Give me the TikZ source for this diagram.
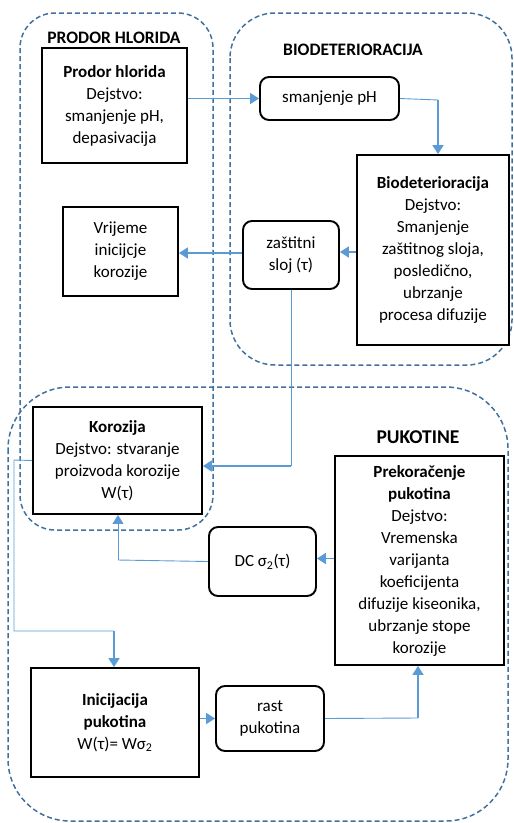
\documentclass[tikz,border=0pt]{standalone}
\usepackage{fontspec}
\setmainfont{Carlito}
\usetikzlibrary{arrows.meta,positioning}
\definecolor{zoneblue}{HTML}{41719C}
\definecolor{linkblue}{HTML}{5B9BD5}

\begin{document}
\begin{tikzpicture}[
  x = 1pt, y = -1pt,
  > = {Triangle[length=9pt,width=11pt]},
  font = \fontsize{17}{22}\selectfont,
  zone/.style = {draw=zoneblue, line width=1.5pt, dash pattern=on 5pt off 3pt},
  stage/.style = {rectangle, draw, line width=1.9pt, align=center,
                  inner sep=0pt, fill=white},
  quantity/.style = {stage, rounded corners=9pt},
  title/.style = {font=\fontsize{17.5}{22}\selectfont\bfseries},
  link/.style = {draw=linkblue, line width=1.8pt},
  feed/.style = {draw=linkblue, line width=0.9pt}
]

\useasboundingbox (0,0) rectangle (514,823);

\draw[zone, rounded corners=35pt] (20,13) rectangle (213,530);
\draw[zone, rounded corners=45pt] (230,13) rectangle (512,365);
\draw[zone, rounded corners=62pt] (8,387) rectangle (508,821);

\node[title] (tprodor) at (114,38)  {PRODOR HLORIDA};
\node[title] (tbio)    at (353,50)  {BIODETERIORACIJA};
\node[title, font=\fontsize{19.5}{22}\selectfont\bfseries] (tpuk) at (418,437) {PUKOTINE};

\node[stage, minimum width=145pt, minimum height=115pt] (prodor) at (114.5,105.5)
  {\textbf{Prodor hlorida}\\Dejstvo:\\smanjenje pH,\\depasivacija};
\node[quantity, minimum width=139pt, minimum height=43pt] (ph) at (329.5,98.5)
  {smanjenje pH};
\node[stage, minimum width=152pt, minimum height=190pt] (bio) at (433,250)
  {\textbf{Biodeterioracija}\\Dejstvo:\\Smanjenje\\zaštitnog sloja,\\posledično,\\ubrzanje\\procesa difuzije};
\node[quantity, minimum width=96pt, minimum height=68pt] (sloj) at (291,255)
  {zaštitni\\sloj (τ)};
\node[stage, minimum width=115pt, minimum height=89pt] (vrijeme) at (120.5,251.5)
  {Vrijeme\\inicijcje\\korozije};
\node[stage, minimum width=169pt, minimum height=107pt] (korozija) at (117.5,460.5)
  {\textbf{Korozija}\\Dejstvo: stvaranje\\proizvoda korozije\\W(τ)};
\node[quantity, minimum width=107pt, minimum height=69pt] (dc) at (262.5,561.5)
  {DC σ\textsubscript{2}(τ)};
\node[stage, minimum width=169pt, minimum height=209pt] (prekor) at (419.5,560.5)
  {\textbf{Prekoračenje}\\\textbf{pukotina}\\Dejstvo:\\Vremenska\\varijanta\\koeficijenta\\difuzije kiseonika,\\ubrzanje stope\\korozije};
\node[stage, minimum width=168pt, minimum height=109pt] (inic) at (115,722.5)
  {\textbf{Inicijacija}\\\textbf{pukotina}\\W(τ)= Wσ\textsubscript{2}};
\node[quantity, minimum width=108pt, minimum height=65pt] (rast) at (270,718.5)
  {rast\\pukotina};

\coordinate (phbend)   at (438,100);
\coordinate (slojbend) at (291,466);
\coordinate (korbendA) at (14,460);
\coordinate (korbendB) at (14,631);
\coordinate (korbendC) at (114,631);
\coordinate (dcbend)   at (118,560);
\coordinate (rastbend) at (418,718);

\draw[link, ->] (prodor.east |- ph.west) -- (ph.west);
\draw[feed] (ph.east) -- (phbend);
\draw[link, ->] (phbend) -- (phbend |- bio.north);
\draw[link, ->] ([yshift=3pt]bio.west |- sloj.east) -- ([yshift=3pt]sloj.east);
\draw[link, ->] ([yshift=2pt]sloj.west) -- ([yshift=2pt]sloj.west -| vrijeme.east);
\draw[feed] (sloj.south) -- (slojbend);
\draw[link, ->] (slojbend) -- (slojbend -| korozija.east);
\draw[feed] (korozija.west) -- (korbendA) -- (korbendB) -- (korbendC);
\draw[link, ->] (korbendC) -- (korbendC |- inic.north);
\draw[link, ->] ([yshift=3pt]prekor.west |- dc.east) -- ([yshift=3pt]dc.east);
\draw[feed] (dc.west) -- (dcbend);
\draw[feed, ->] (dcbend) -- (dcbend |- korozija.south);
\draw[link, ->] (inic.east |- rast.west) -- (rast.west);
\draw[feed] (rast.east) -- (rastbend);
\draw[link, ->] (rastbend) -- (rastbend |- prekor.south);
\end{tikzpicture}
\end{document}
